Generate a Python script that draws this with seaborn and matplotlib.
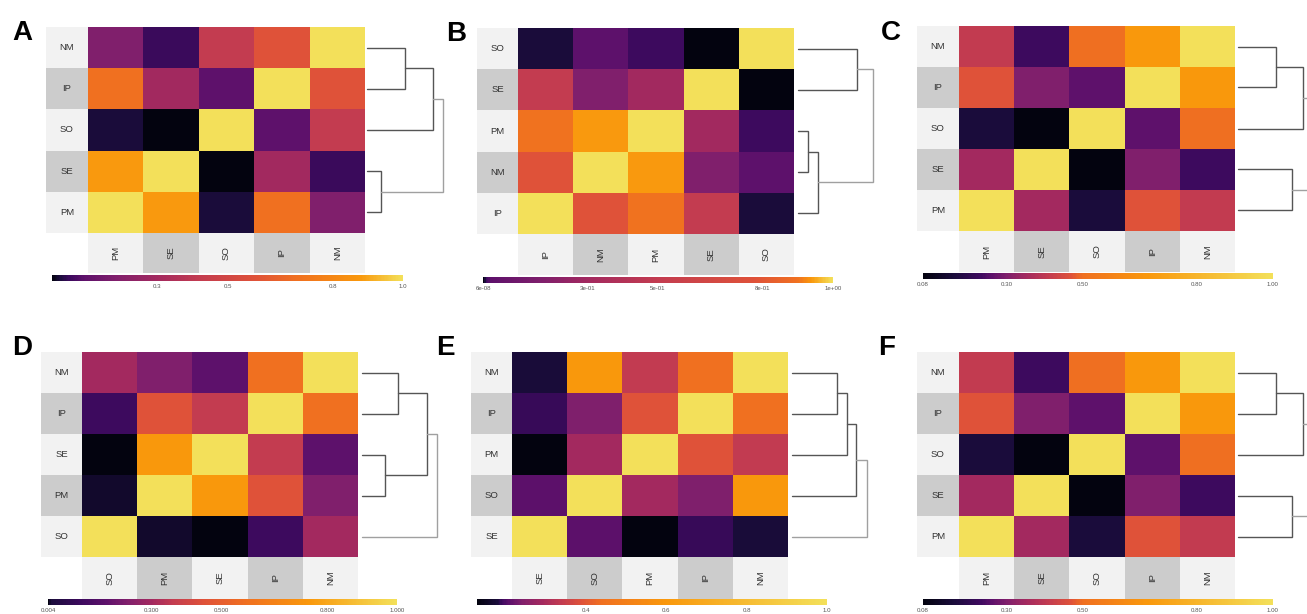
import numpy as np
import pandas as pd
import matplotlib
matplotlib.use("Agg")
import matplotlib.pyplot as plt
from matplotlib.patches import Rectangle
from matplotlib.colors import LinearSegmentedColormap
import seaborn as sns

sns.set_theme(style="white")
plt.rcParams["font.family"] = ["Liberation Sans", "DejaVu Sans"]

# ---------------- data ----------------
# colour stops shared by all panels (inferno-like)
LEVEL_COLORS = ["#03030f", "#1a0c3b", "#3e0a5f", "#5e116b", "#801f6c", "#a3295f",
                "#c33c50", "#df5239", "#f07020", "#f9980c", "#f3e05a"]

A_rows = ["NM", "IP", "SO", "SE", "PM"]
A_cols = ["PM", "SE", "SO", "IP", "NM"]
A_values = [[0.18, 0.05, 0.42, 0.58, 1.00],
            [0.70, 0.30, 0.09, 1.00, 0.58],
            [0.02, 0.00, 1.00, 0.09, 0.42],
            [0.88, 1.00, 0.00, 0.30, 0.05],
            [1.00, 0.88, 0.02, 0.70, 0.18]]
A_scale = [0.0, 0.02, 0.05, 0.09, 0.18, 0.30, 0.42, 0.58, 0.70, 0.88, 1.0]
A_ticks = [0.3, 0.5, 0.8, 1.0]
A_ticklabels = ["0.3", "0.5", "0.8", "1.0"]
A_merges = [(0, 1, 0.50), (5, 2, 0.87), (3, 4, 0.18), (6, 7, 1.00)]

B_rows = ["SO", "SE", "PM", "NM", "IP"]
B_cols = ["IP", "NM", "PM", "SE", "SO"]
B_values = [[0.004, 0.02, 0.008, 6e-08, 1.00],
            [0.50, 0.17, 0.30, 1.00, 6e-08],
            [0.90, 0.94, 1.00, 0.30, 0.008],
            [0.78, 1.00, 0.94, 0.17, 0.02],
            [1.00, 0.78, 0.90, 0.50, 0.004]]
B_scale = [6e-08, 0.004, 0.008, 0.02, 0.17, 0.30, 0.50, 0.78, 0.90, 0.94, 1.0]
B_ticks = [6e-08, 0.3, 0.5, 0.8, 1.0]
B_ticklabels = ["6e-08", "3e-01", "5e-01", "8e-01", "1e+00"]
B_merges = [(0, 1, 0.79), (2, 3, 0.13), (6, 4, 0.27), (5, 7, 1.00)]

C_rows = ["NM", "IP", "SO", "SE", "PM"]
C_cols = ["PM", "SE", "SO", "IP", "NM"]
C_values = [[0.41, 0.23, 0.50, 0.67, 1.00],
            [0.47, 0.30, 0.26, 1.00, 0.67],
            [0.16, 0.08, 1.00, 0.26, 0.50],
            [0.35, 1.00, 0.08, 0.30, 0.23],
            [1.00, 0.35, 0.16, 0.47, 0.41]]
C_scale = [0.08, 0.16, 0.23, 0.26, 0.30, 0.35, 0.41, 0.47, 0.50, 0.67, 1.0]
C_ticks = [0.08, 0.3, 0.5, 0.8, 1.0]
C_ticklabels = ["0.08", "0.30", "0.50", "0.80", "1.00"]
C_merges = [(0, 1, 0.475), (5, 2, 0.81), (3, 4, 0.675), (6, 7, 1.00)]

D_rows = ["NM", "IP", "SE", "PM", "SO"]
D_cols = ["SO", "PM", "SE", "IP", "NM"]
D_values = [[0.30, 0.23, 0.17, 0.57, 1.00],
            [0.10, 0.45, 0.36, 1.00, 0.57],
            [0.004, 0.75, 1.00, 0.36, 0.17],
            [0.01, 1.00, 0.75, 0.45, 0.23],
            [1.00, 0.01, 0.004, 0.10, 0.30]]
D_scale = [0.004, 0.01, 0.10, 0.17, 0.23, 0.30, 0.36, 0.45, 0.57, 0.75, 1.0]
D_ticks = [0.004, 0.3, 0.5, 0.8, 1.0]
D_ticklabels = ["0.004", "0.300", "0.500", "0.800", "1.000"]
D_merges = [(0, 1, 0.48), (2, 3, 0.31), (5, 6, 0.87), (7, 4, 1.00)]

E_rows = ["NM", "IP", "PM", "SO", "SE"]
E_cols = ["SE", "SO", "PM", "IP", "NM"]
E_values = [[0.18, 0.60, 0.34, 0.44, 1.00],
            [0.19, 0.24, 0.39, 1.00, 0.44],
            [0.13, 0.29, 1.00, 0.39, 0.34],
            [0.21, 1.00, 0.29, 0.24, 0.60],
            [1.00, 0.21, 0.13, 0.19, 0.18]]
E_scale = [0.13, 0.18, 0.19, 0.21, 0.24, 0.29, 0.34, 0.39, 0.44, 0.60, 1.0]
E_ticks = [0.4, 0.6, 0.8, 1.0]
E_ticklabels = ["0.4", "0.6", "0.8", "1.0"]
E_merges = [(0, 1, 0.60), (5, 2, 0.73), (6, 3, 0.85), (7, 4, 1.00)]

F_rows = ["NM", "IP", "SO", "SE", "PM"]
F_cols = ["PM", "SE", "SO", "IP", "NM"]
F_values = [[0.41, 0.23, 0.50, 0.67, 1.00],
            [0.47, 0.30, 0.26, 1.00, 0.67],
            [0.16, 0.08, 1.00, 0.26, 0.50],
            [0.35, 1.00, 0.08, 0.30, 0.23],
            [1.00, 0.35, 0.16, 0.47, 0.41]]
F_scale = [0.08, 0.16, 0.23, 0.26, 0.30, 0.35, 0.41, 0.47, 0.50, 0.67, 1.0]
F_ticks = [0.08, 0.3, 0.5, 0.8, 1.0]
F_ticklabels = ["0.08", "0.30", "0.50", "0.80", "1.00"]
F_merges = [(0, 1, 0.475), (5, 2, 0.81), (3, 4, 0.675), (6, 7, 1.00)]

# ---------------- layout (pixels) ----------------
W, H = 1307, 614
fig = plt.figure(figsize=(W / 100, H / 100), dpi=100)
fig.patch.set_facecolor("white")


def px(x0, y0, x1, y1):
    return [x0 / W, 1 - y1 / H, (x1 - x0) / W, (y1 - y0) / H]


LIGHT, GREY = "#f2f2f2", "#cccccc"
TXT = "#333333"


def make_cmap(scale):
    lo, hi = scale[0], scale[-1]
    stops = [((v - lo) / (hi - lo), c) for v, c in zip(scale, LEVEL_COLORS)]
    return LinearSegmentedColormap.from_list("c", stops)


def panel(letter, rows, cols, values, scale, ticks, ticklabels, merges, L):
    hx0, hy0, hx1, hy1 = L["heat"]
    lab_x0 = L["lab"]
    cb = L["cbar"]
    dx0, dx1 = L["dend"]
    df = pd.DataFrame(values, index=rows, columns=cols)

    ax = fig.add_axes(px(hx0, hy0, hx1, hy1))
    cax = fig.add_axes(px(cb[0], cb[1], cb[2], cb[3]))
    sns.heatmap(df, ax=ax, cmap=make_cmap(scale), vmin=scale[0], vmax=scale[-1],
                cbar_ax=cax, cbar_kws=dict(orientation="horizontal", ticks=ticks),
                xticklabels=False, yticklabels=False, linewidths=0)
    ax.set_xlabel("")
    ax.set_ylabel("")
    cbar = ax.collections[0].colorbar
    cbar.outline.set_visible(False)
    cax.set_xticklabels(ticklabels)
    cax.tick_params(axis="x", length=0, labelsize=4.4, colors="#555555", pad=2)

    # row label strip
    rax = fig.add_axes(px(lab_x0, hy0, hx0, hy1))
    rax.set_xlim(0, 1)
    rax.set_ylim(len(rows), 0)
    for i, r in enumerate(rows):
        rax.add_patch(Rectangle((0, i), 1, 1, color=LIGHT if i % 2 == 0 else GREY, lw=0))
        rax.text(0.5, i + 0.5, r, ha="center", va="center", fontsize=6.8, color=TXT)
    rax.axis("off")

    # column label strip
    cx = fig.add_axes(px(hx0, hy1, hx1, L["colbot"]))
    cx.set_xlim(0, len(cols))
    cx.set_ylim(1, 0)
    for j, c in enumerate(cols):
        cx.add_patch(Rectangle((j, 0), 1, 1, color=LIGHT if j % 2 == 0 else GREY, lw=0))
        cx.text(j + 0.5, 0.5, c, ha="center", va="center", rotation=90,
                fontsize=6.8, color=TXT)
    cx.axis("off")

    # dendrogram
    dax = fig.add_axes(px(dx0, hy0, dx1, hy1))
    dax.set_xlim(0, 1)
    dax.set_ylim(len(rows), 0)
    pos = {i: i + 0.5 for i in range(len(rows))}
    hgt = {i: 0.0 for i in range(len(rows))}
    nid = len(rows)
    for k, (a, b, h) in enumerate(merges):
        col = "#a0a0a0" if k == len(merges) - 1 else "#555555"
        dax.plot([hgt[a], h, h, hgt[b]], [pos[a], pos[a], pos[b], pos[b]],
                 color=col, lw=1.0, clip_on=False, solid_joinstyle="miter")
        pos[nid] = (pos[a] + pos[b]) / 2
        hgt[nid] = h
        nid += 1
    dax.axis("off")

    fig.text(L["letter"][0] / W, 1 - L["letter"][1] / H, letter, fontsize=20,
             fontweight="bold", ha="left", va="baseline", color="black")


layouts = {
    "A": dict(heat=(88, 27, 365, 233), lab=46, colbot=273, cbar=(52, 275, 403, 281),
              dend=(367, 443), letter=(12, 40)),
    "B": dict(heat=(518, 28, 794, 234), lab=477, colbot=275, cbar=(483, 277, 833, 283),
              dend=(798, 873), letter=(446, 41)),
    "C": dict(heat=(959, 26, 1235, 231), lab=917, colbot=272, cbar=(923, 273, 1273, 279),
              dend=(1238, 1318), letter=(881, 40)),
    "D": dict(heat=(82, 352, 358, 557), lab=41, colbot=599, cbar=(48, 599, 397, 605),
              dend=(362, 437), letter=(12, 355)),
    "E": dict(heat=(512, 352, 788, 557), lab=471, colbot=599, cbar=(477, 599, 827, 605),
              dend=(792, 867), letter=(436, 355)),
    "F": dict(heat=(959, 352, 1235, 557), lab=917, colbot=599, cbar=(923, 599, 1273, 605),
              dend=(1238, 1318), letter=(878, 355)),
}

panel("A", A_rows, A_cols, A_values, A_scale, A_ticks, A_ticklabels, A_merges, layouts["A"])
panel("B", B_rows, B_cols, B_values, B_scale, B_ticks, B_ticklabels, B_merges, layouts["B"])
panel("C", C_rows, C_cols, C_values, C_scale, C_ticks, C_ticklabels, C_merges, layouts["C"])
panel("D", D_rows, D_cols, D_values, D_scale, D_ticks, D_ticklabels, D_merges, layouts["D"])
panel("E", E_rows, E_cols, E_values, E_scale, E_ticks, E_ticklabels, E_merges, layouts["E"])
panel("F", F_rows, F_cols, F_values, F_scale, F_ticks, F_ticklabels, F_merges, layouts["F"])

fig.savefig("out.png", dpi=100, facecolor="white")
